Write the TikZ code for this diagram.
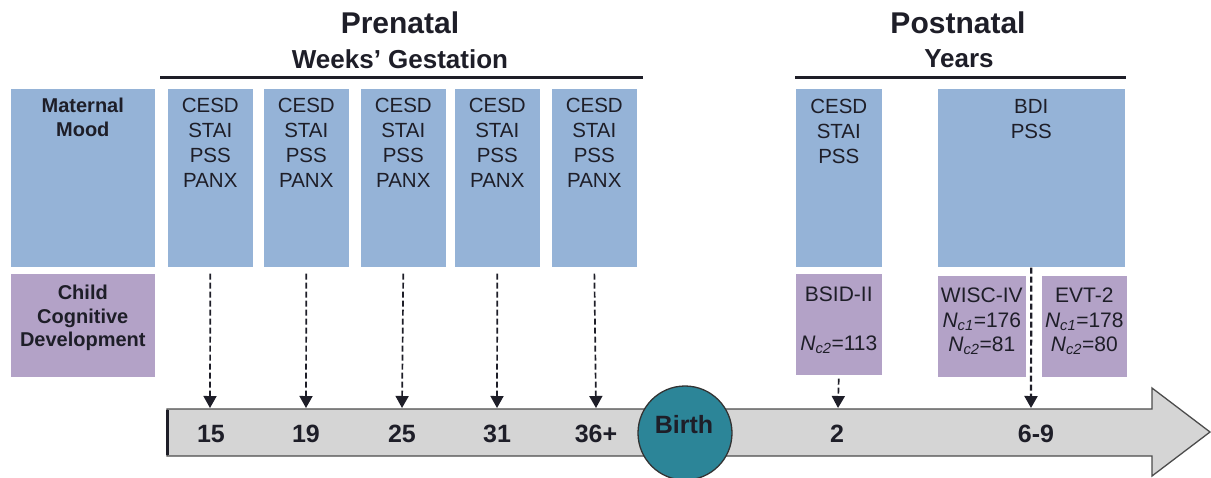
\documentclass[tikz,border=0pt]{standalone}
\usepackage{fontspec}
\setmainfont{Liberation Sans}
\usetikzlibrary{arrows.meta}
\definecolor{moodblue}{HTML}{95B3D7}
\definecolor{cogpurple}{HTML}{B3A2C7}
\definecolor{axisgray}{HTML}{D5D5D5}
\definecolor{birthteal}{HTML}{2C8598}
\definecolor{txt}{HTML}{1E1E28}
\begin{document}
\begin{tikzpicture}[x=1pt,y=-1pt,
  bluebox/.style={fill=moodblue, draw=white, line width=0.6pt, anchor=north west, inner sep=0pt},
  purplebox/.style={fill=cogpurple, draw=white, line width=0.6pt, anchor=north west, inner sep=0pt},
  boxtext/.style={anchor=north, align=center, inner sep=0pt, text=txt, font=\fontsize{20.5}{25}\selectfont},
  headtext/.style={anchor=north, align=center, inner sep=0pt, text=txt, font=\fontsize{20}{23.5}\selectfont\bfseries},
  cogtext/.style={anchor=north, align=center, inner sep=0pt, text=txt, font=\fontsize{21}{24.5}\selectfont},
  bigtitle/.style={anchor=base, inner sep=0pt, text=txt, font=\fontsize{30}{34}\selectfont\bfseries},
  subtitle/.style={anchor=base, inner sep=0pt, text=txt, font=\fontsize{26}{30}\selectfont\bfseries},
  ticklabel/.style={inner sep=0pt, text=txt, font=\fontsize{25}{28}\selectfont\bfseries},
  bar/.style={line width=3pt, draw=txt},
  dasharrow/.style={draw=txt, line width=1.7pt, dash pattern=on 6pt off 3pt, -{Triangle[width=13pt,length=12pt]}}
]
\useasboundingbox (0,0) rectangle (1211,477);

% titles
\node[bigtitle] (pren) at (400,33) {Prenatal};
\node[subtitle] (weeks) at (400,68) {Weeks’ Gestation};
\node[bigtitle] (postn) at (958,33) {Postnatal};
\node[subtitle] (years) at (959,67) {Years};
\coordinate (pl1) at (160,77); \coordinate (pl2) at (643,77);
\coordinate (ql1) at (795,77); \coordinate (ql2) at (1126,77);
\draw[bar] (pl1) -- (pl2);
\draw[bar] (ql1) -- (ql2);

% maternal mood row
\node[bluebox, minimum width=145pt, minimum height=179pt] (mm) at (10,88) {};
\node[headtext] (mmt) at ([yshift=-10pt]mm.north) {Maternal\\Mood};
\foreach \i/\x in {1/167,2/263,3/360,4/454,5/551}{
  \node[bluebox, minimum width=86pt, minimum height=179pt] (p\i) at (\x,88) {};
  \node[boxtext] (p\i t) at ([yshift=-10pt]p\i.north) {CESD\\STAI\\PSS\\PANX};
}
\node[bluebox, minimum width=87pt, minimum height=179pt] (q1) at (795,88) {};
\node[boxtext] (q1t) at ([yshift=-11pt]q1.north) {CESD\\STAI\\PSS};
\node[bluebox, minimum width=188pt, minimum height=179pt] (q2) at (937,88) {};
\node[boxtext] (q2t) at ([yshift=-11pt]q2.north) {BDI\\PSS};

% child cognitive development row
\node[purplebox, minimum width=145pt, minimum height=104pt] (cc) at (10,273) {};
\node[headtext] (cct) at ([yshift=-12pt]cc.north) {Child\\Cognitive\\Development};
\node[purplebox, minimum width=87pt, minimum height=102pt] (bsid) at (795,273) {};
\node[cogtext] (bsidt) at ([yshift=-14pt]bsid.north) {BSID-II\\[24.5pt]\textit{N}\textsubscript{\textit{c2}}=113};
\node[purplebox, minimum width=89pt, minimum height=102pt] (wisc) at (937,275) {};
\node[cogtext] (wisct) at ([yshift=-13pt]wisc.north) {WISC-IV\\\textit{N}\textsubscript{\textit{c1}}=176\\\textit{N}\textsubscript{\textit{c2}}=81};
\node[purplebox, minimum width=86pt, minimum height=102pt] (evt) at (1041,275) {};
\node[cogtext] (evtt) at ([yshift=-13pt]evt.north) {EVT-2\\\textit{N}\textsubscript{\textit{c1}}=178\\\textit{N}\textsubscript{\textit{c2}}=80};

% time axis arrow
\draw[fill=axisgray, draw=black!70, line width=1.3pt]
  (167,409) -- (1152,409) -- (1152,388) -- (1210,432) -- (1152,476) -- (1152,456) -- (167,456) -- cycle;
\draw[line width=3pt, draw=txt] (167,410) -- (167,455);

\node[circle, fill=birthteal, draw=black!80, line width=1.3pt, minimum size=94pt, inner sep=0pt] (birth) at (685,433) {};
\node[inner sep=0pt, text=txt, font=\fontsize{25}{28}\selectfont\bfseries] (birtht) at (684,425) {Birth};

\foreach \n/\x/\l in {15/211/15,19/306/19,25/402/25,31/497/31,36/596/36+,2/837/2,69/1036/6-9}{
  \node[ticklabel] (t\n) at (\x,434) {\l};
}
\foreach \n/\x in {15/210,19/306,25/402,31/497,36/596,2/838,69/1031}{
  \coordinate (a\n) at (\x,408);
}

% connectors
\foreach \i/\n in {1/15,2/19,3/25,4/31,5/36}{
  \draw[dasharrow, shorten <=6pt] (p\i.south) -- (a\n);
}
\draw[dasharrow, shorten <=3pt] (bsid.south) -- (a2);
\draw[dasharrow, line width=2.2pt] (q2.south) -- (a69);
\end{tikzpicture}
\end{document}
